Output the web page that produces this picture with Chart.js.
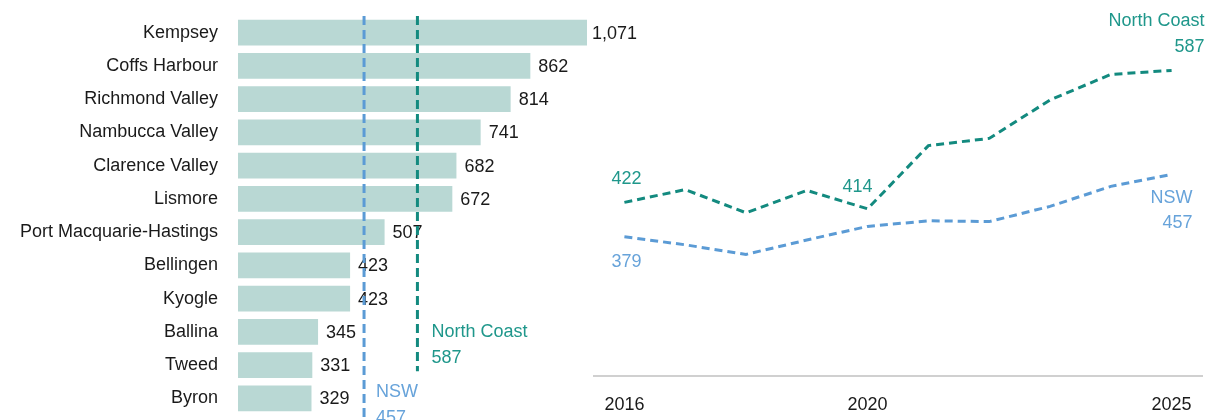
<!DOCTYPE html>
<html>
<head>
<meta charset="utf-8">
<script src="https://cdn.jsdelivr.net/npm/chart.js@4.4.1/dist/chart.umd.min.js"></script>
<style>
    body { margin: 0; background: #fff; overflow: hidden; }
    #wrap { position: relative; width: 1215px; height: 420px; }
    #barBox { position: absolute; left: 0; top: 0; width: 650px; height: 420px; }
    #lineBox { position: absolute; left: 590px; top: 0; width: 625px; height: 420px; }
</style>
</head>
<body>
<div id="wrap">
    <div id="barBox"><canvas id="barChart"></canvas></div>
    <div id="lineBox"><canvas id="lineChart"></canvas></div>
</div>
<script>
// bar chart data
const regions = ['Kempsey', 'Coffs Harbour', 'Richmond Valley', 'Nambucca Valley', 'Clarence Valley', 'Lismore',
    'Port Macquarie-Hastings', 'Bellingen', 'Kyogle', 'Ballina', 'Tweed', 'Byron'];
const regionValues = [1071, 862, 814, 741, 682, 672, 507, 423, 423, 345, 331, 329];
const benchmarkNames = ['NSW', 'North Coast'];
const benchmarkValues = [457, 587];

// line chart data
const years = ['2016', '2017', '2018', '2019', '2020', '2021', '2022', '2023', '2024', '2025'];
const northCoastSeries = [422, 438, 409, 437, 414, 493, 502, 550, 582, 587];
const nswSeries = [379, 369, 357, 375, 392, 399, 398, 417, 442, 457];
const yearTicks = ['2016', '2020', '2025'];

const TEAL = '#138a7f';
const TEAL_TEXT = '#1f978b';
const BLUE = '#5b9bd5';
const BLUE_TEXT = '#67a3da';
const FONT = '"Liberation Sans", Arial, sans-serif';

Chart.defaults.font.family = FONT;
Chart.defaults.font.size = 18;
Chart.defaults.color = '#1a1a1a';

const fmt = v => v.toLocaleString('en-US');

// value labels at the end of each bar + the two benchmark lines
const barExtras = {
    id: 'barExtras',
    afterDatasetsDraw(chart) {
        const ctx = chart.ctx;
        const x = chart.scales.x;
        const y = chart.scales.y;
        const area = chart.chartArea;
        ctx.save();
        ctx.font = '18px ' + FONT;
        ctx.textBaseline = 'middle';
        ctx.textAlign = 'left';
        ctx.fillStyle = '#1a1a1a';
        regionValues.forEach((v, i) => {
            const px = x.getPixelForValue(Math.min(v, x.max));
            const gap = v > x.max ? 5 : 8;
            ctx.fillText(fmt(v), px + gap, y.getPixelForValue(i) + 1);
        });

        // benchmark lines
        ctx.lineWidth = 3;
        ctx.setLineDash([9, 5]);
        const nswX = x.getPixelForValue(benchmarkValues[0]);
        const ncX = x.getPixelForValue(benchmarkValues[1]);
        ctx.strokeStyle = BLUE;
        ctx.beginPath();
        ctx.moveTo(nswX, area.top);
        ctx.lineTo(nswX, chart.height);
        ctx.stroke();
        ctx.strokeStyle = TEAL;
        ctx.beginPath();
        ctx.moveTo(ncX, area.top);
        ctx.lineTo(ncX, y.getPixelForValue(10) + 6);
        ctx.stroke();
        ctx.setLineDash([]);

        ctx.fillStyle = TEAL_TEXT;
        const ncY = y.getPixelForValue(9);
        ctx.fillText(benchmarkNames[1], ncX + 14, ncY);
        ctx.fillText(String(benchmarkValues[1]), ncX + 14, ncY + 26);
        ctx.fillStyle = BLUE_TEXT;
        const nswY = y.getPixelForValue(11) - 6;
        ctx.fillText(benchmarkNames[0], nswX + 12, nswY);
        ctx.fillText(String(benchmarkValues[0]), nswX + 12, nswY + 26);
        ctx.restore();
    }
};

new Chart(document.getElementById('barChart'), {
    type: 'bar',
    data: {
        labels: regions,
        datasets: [{
            data: regionValues,
            backgroundColor: '#b9d8d4',
            barPercentage: 0.78,
            categoryPercentage: 1,
            clip: 0
        }]
    },
    options: {
        indexAxis: 'y',
        responsive: true,
        maintainAspectRatio: false,
        animation: false,
        layout: { padding: { top: 16, bottom: 5, right: 63, left: 0 } },
        plugins: { legend: { display: false }, tooltip: { enabled: false } },
        scales: {
            x: { display: false, min: 150, max: 1000 },
            y: {
                grid: { display: false, drawTicks: false },
                border: { display: false },
                ticks: { padding: 20, color: '#1a1a1a', font: { size: 18 } },
                afterFit: s => {
                    s.width = 238;
                    // labels sit inside their bands, no extra room needed
                    s.paddingTop = 0;
                    s.paddingBottom = 0;
                }
            }
        }
    },
    plugins: [barExtras]
});

// point labels on the trend lines
const lineLabels = {
    id: 'lineLabels',
    afterDatasetsDraw(chart) {
        const ctx = chart.ctx;
        const x = chart.scales.x;
        const y = chart.scales.y;
        const last = years.length - 1;
        ctx.save();
        ctx.font = '18px ' + FONT;
        ctx.textBaseline = 'middle';

        ctx.fillStyle = TEAL_TEXT;
        ctx.textAlign = 'center';
        ctx.fillText(String(northCoastSeries[0]), x.getPixelForValue(0) + 2, y.getPixelForValue(northCoastSeries[0]) - 23);
        ctx.fillText(String(northCoastSeries[4]), x.getPixelForValue(4) - 10, y.getPixelForValue(northCoastSeries[4]) - 22);
        ctx.textAlign = 'right';
        const ncX = x.getPixelForValue(last) + 33;
        const ncY = y.getPixelForValue(northCoastSeries[last]);
        ctx.fillText('North Coast', ncX, ncY - 49);
        ctx.fillText(String(northCoastSeries[last]), ncX, ncY - 23);

        ctx.fillStyle = BLUE_TEXT;
        ctx.textAlign = 'center';
        ctx.fillText(String(nswSeries[0]), x.getPixelForValue(0) + 2, y.getPixelForValue(nswSeries[0]) + 25);
        ctx.textAlign = 'right';
        const nX = x.getPixelForValue(last) + 21;
        const nY = y.getPixelForValue(nswSeries[last]);
        ctx.fillText('NSW', nX, nY + 24);
        ctx.fillText(String(nswSeries[last]), nX, nY + 49);
        ctx.restore();
    }
};

new Chart(document.getElementById('lineChart'), {
    type: 'line',
    data: {
        labels: years,
        datasets: [
            {
                label: 'North Coast',
                data: northCoastSeries,
                borderColor: TEAL,
                borderWidth: 3,
                borderDash: [8, 5],
                pointRadius: 0,
                tension: 0
            },
            {
                label: 'NSW',
                data: nswSeries,
                borderColor: BLUE,
                borderWidth: 3,
                borderDash: [8, 5],
                pointRadius: 0,
                tension: 0
            }
        ]
    },
    options: {
        responsive: true,
        maintainAspectRatio: false,
        animation: false,
        layout: { padding: { top: 60, bottom: 0, left: 4, right: 13 } },
        plugins: { legend: { display: false }, tooltip: { enabled: false } },
        scales: {
            x: {
                offset: true,
                grid: { display: false, drawTicks: false },
                border: { display: true, color: '#d0d0d0', width: 2 },
                ticks: {
                    padding: 18,
                    autoSkip: false,
                    maxRotation: 0,
                    color: '#1a1a1a',
                    callback: (val, i) => yearTicks.includes(years[i]) ? years[i] : ''
                },
                afterFit: s => {
                    s.height = 44;
                    s.paddingLeft = 0;
                    s.paddingRight = 0;
                }
            },
            y: { display: false, min: 205, max: 600 }
        }
    },
    plugins: [lineLabels]
});
</script>
</body>
</html>
